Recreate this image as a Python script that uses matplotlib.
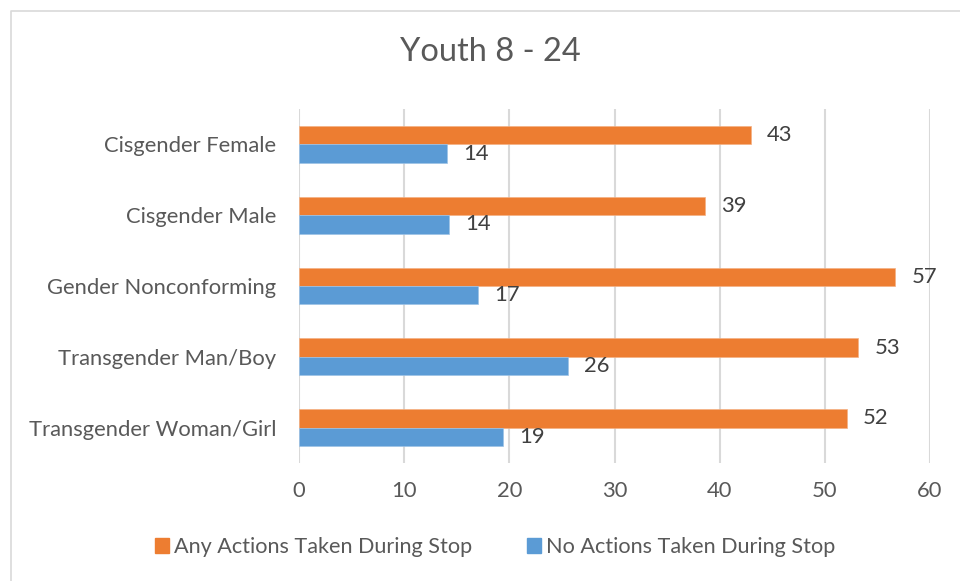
import matplotlib.pyplot as plt
import numpy as np
from matplotlib.lines import Line2D
from matplotlib.patches import Patch

plt.rcParams['font.family'] = ['Lato', 'DejaVu Sans']

categories = ['Cisgender Female', 'Cisgender Male', 'Gender Nonconforming',
              'Transgender Man/Boy', 'Transgender Woman/Girl']
any_actions = [43.0, 38.6, 56.7, 53.2, 52.1]
no_actions = [14.05, 14.25, 17.0, 25.6, 19.4]
series_names = ['Any Actions Taken During Stop', 'No Actions Taken During Stop']
xticks = [0, 10, 20, 30, 40, 50, 60]

orange = '#ED7D31'
blue = '#5B9BD5'
txt = '#595959'
fs = 15.8

fig = plt.figure(figsize=(9.6, 5.81), dpi=100)
ax = fig.add_axes([299 / 960, (581 - 463) / 581, 631 / 960, 354 / 581])

y = np.arange(len(categories))
h = 0.26
ax.barh(y - h / 2, any_actions, height=h, color=orange, edgecolor='#F4B183', linewidth=0.5, zorder=3)
ax.barh(y + h / 2, no_actions, height=h, color=blue, edgecolor='#9DC3E6', linewidth=0.5, zorder=3)

for i in range(len(categories)):
    ax.annotate(f'{any_actions[i]:.0f}', (any_actions[i], y[i] - h / 2), xytext=(11.5, 0),
                textcoords='offset points', va='center', ha='left', fontsize=fs, color='#404040')
    ax.annotate(f'{no_actions[i]:.0f}', (no_actions[i], y[i] + h / 2), xytext=(11.5, 0),
                textcoords='offset points', va='center', ha='left', fontsize=fs, color='#404040')

ax.set_xlim(0, 60)
ax.set_ylim(len(categories) - 0.5, -0.5)
ax.set_xticks(xticks)
ax.set_yticks(y)
ax.set_yticklabels(categories)
ax.tick_params(axis='both', length=0, labelsize=fs, labelcolor=txt)
ax.tick_params(axis='y', pad=16.5)
ax.tick_params(axis='x', pad=13)
ax.grid(axis='x', color='#D9D9D9', linewidth=1.5, zorder=0)
for s in ax.spines.values():
    s.set_visible(False)

fig.text(490 / 960, 1 - 52 / 581, 'Youth 8 - 24', ha='center', va='center', fontsize=23.5, color=txt)

handles = [Patch(color=orange), Patch(color=blue)]
fig.legend(handles, series_names, loc='center', bbox_to_anchor=(495 / 960, 1 - 547 / 581), ncol=2,
           frameon=False, fontsize=15.6, labelcolor=txt, handlelength=0.65, handleheight=0.65,
           handletextpad=0.25, columnspacing=2.5)

fig.add_artist(Line2D([11 / 960, 11 / 960, 1], [0, 1 - 10.5 / 581, 1 - 10.5 / 581],
                      transform=fig.transFigure, color='#D9D9D9', linewidth=1.2))

fig.savefig('out.png', dpi=100)
